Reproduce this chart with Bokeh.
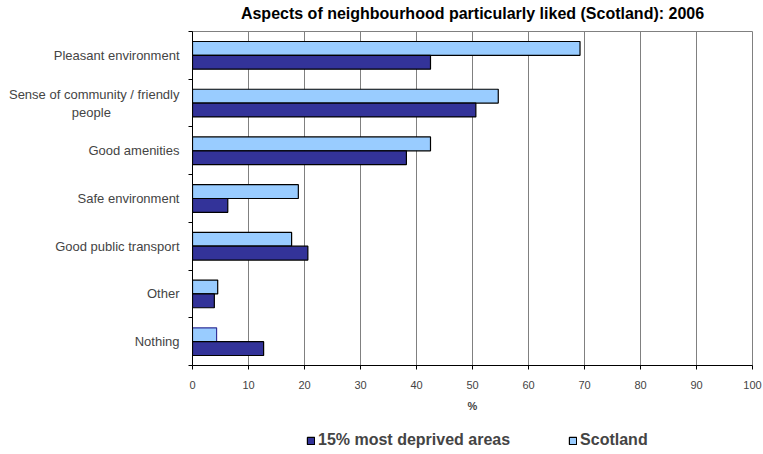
from bokeh.plotting import figure
from bokeh.layouts import column
from bokeh.models import (FixedTicker, Legend, LegendItem, ColumnDataSource,
                          Range1d, Label)
from bokeh.embed import file_html
from bokeh.resources import INLINE

# ---- data (top to bottom as in the chart) ----
title_text = "Aspects of neighbourhood particularly liked (Scotland): 2006"
categories = ["Pleasant environment",
              "Sense of community / friendly\npeople" + "\u00a0" * 19,
              "Good amenities", "Safe environment", "Good public transport",
              "Other", "Nothing"]
scotland = [69.2, 54.6, 42.5, 18.9, 17.7, 4.5, 4.3]
deprived = [42.5, 50.6, 38.2, 6.3, 20.6, 3.9, 12.7]
x_ticks = [0, 10, 20, 30, 40, 50, 60, 70, 80, 90, 100]
series_names = ["15% most deprived areas", "Scotland"]

n = len(categories)
centers = [n - 1 - i + 0.5 for i in range(n)]
bar_h = 0.29
off = bar_h / 2

FONT = "Liberation Sans"
DARK = "#333399"
LIGHT = "#99CCFF"


def strip(height, x_range, y_range):
    f = figure(width=763, height=height, output_backend="svg", toolbar_location=None,
               x_range=x_range, y_range=y_range,
               x_axis_type=None, y_axis_type=None,
               min_border_left=192, min_border_right=11, min_border_top=0,
               min_border_bottom=0, outline_line_color=None,
               background_fill_color="white", border_fill_color="white")
    f.xgrid.visible = False
    f.ygrid.visible = False
    return f


# ---- title strip ----
tf = strip(30, Range1d(0, 100), Range1d(0, 1))
tf.add_layout(Label(x=50, y=17, y_units="screen", text=title_text,
                    text_align="center", text_baseline="middle",
                    text_font=FONT, text_font_size="16px",
                    text_font_style="bold", text_color="black"))

# ---- main chart ----
p = figure(width=763, height=394, output_backend="svg", toolbar_location=None,
           x_range=Range1d(0, 100), y_range=Range1d(0, n),
           min_border_left=192, min_border_right=11, min_border_top=1,
           min_border_bottom=59, background_fill_color="white",
           border_fill_color="white")

p.outline_line_color = "#808080"
p.outline_line_width = 1

p.xgrid.ticker = FixedTicker(ticks=x_ticks)
p.xgrid.grid_line_color = "#808080"
p.xgrid.grid_line_width = 1
p.ygrid.grid_line_color = None

p.xaxis.ticker = FixedTicker(ticks=x_ticks)
p.xaxis.axis_label = "%"
p.xaxis.axis_label_text_font = FONT
p.xaxis.axis_label_text_font_size = "11px"
p.xaxis.axis_label_text_font_style = "bold"
p.xaxis.axis_label_standoff = 8
p.xaxis.major_label_text_font = FONT
p.xaxis.major_label_text_font_size = "11px"
p.xaxis.major_label_standoff = 11
p.xaxis.major_tick_in = 0
p.xaxis.major_tick_out = 4
p.xaxis.minor_tick_line_color = None
p.xaxis.axis_line_color = "black"
p.xaxis.major_tick_line_color = "black"

p.yaxis.ticker = FixedTicker(ticks=centers, minor_ticks=list(range(n + 1)))
p.yaxis.major_label_overrides = {c: cat for c, cat in zip(centers, categories)}
p.yaxis.major_label_text_font = FONT
p.yaxis.major_label_text_font_size = "13px"
p.yaxis.major_label_text_align = "right"
p.yaxis.major_label_standoff = 9
p.yaxis.major_tick_in = 0
p.yaxis.major_tick_out = 0
p.yaxis.minor_tick_in = 0
p.yaxis.minor_tick_out = 4
p.yaxis.minor_tick_line_color = "black"
p.yaxis.axis_line_color = "black"

src = ColumnDataSource(dict(
    y_s=[c + off for c in centers],
    y_d=[c - off for c in centers],
    scot=scotland, dep=deprived,
    scot_line=["black"] * (n - 1) + [DARK],
))

p.hbar(y="y_s", right="scot", left=0, height=bar_h, source=src,
       fill_color=LIGHT, line_color="scot_line", line_width=1.2)
p.hbar(y="y_d", right="dep", left=0, height=bar_h, source=src,
       fill_color=DARK, line_color="black", line_width=1.2)

# ---- legend strip below (its y range lies beyond the data, so only the key shows) ----
lg = strip(30, Range1d(0, 100), Range1d(100, 101))
r_d = lg.hbar(y="y_d", right="dep", left=0, height=bar_h, source=src,
              fill_color=DARK, line_color="black", line_width=1.2)
r_s = lg.hbar(y="y_s", right="scot", left=0, height=bar_h, source=src,
              fill_color=LIGHT, line_color="black", line_width=1.2)
legend = Legend(items=[LegendItem(label=series_names[0], renderers=[r_d]),
                       LegendItem(label=series_names[1], renderers=[r_s])],
                location=(114, 5), orientation="horizontal",
                border_line_color=None, background_fill_alpha=0,
                label_text_font=FONT, label_text_font_size="16px",
                label_text_font_style="bold", glyph_width=9, glyph_height=9,
                label_standoff=3, spacing=58, padding=0, margin=0)
lg.add_layout(legend, "center")

layout = column(tf, p, lg, spacing=0)
open("out.html", "w").write(file_html(layout, INLINE))
